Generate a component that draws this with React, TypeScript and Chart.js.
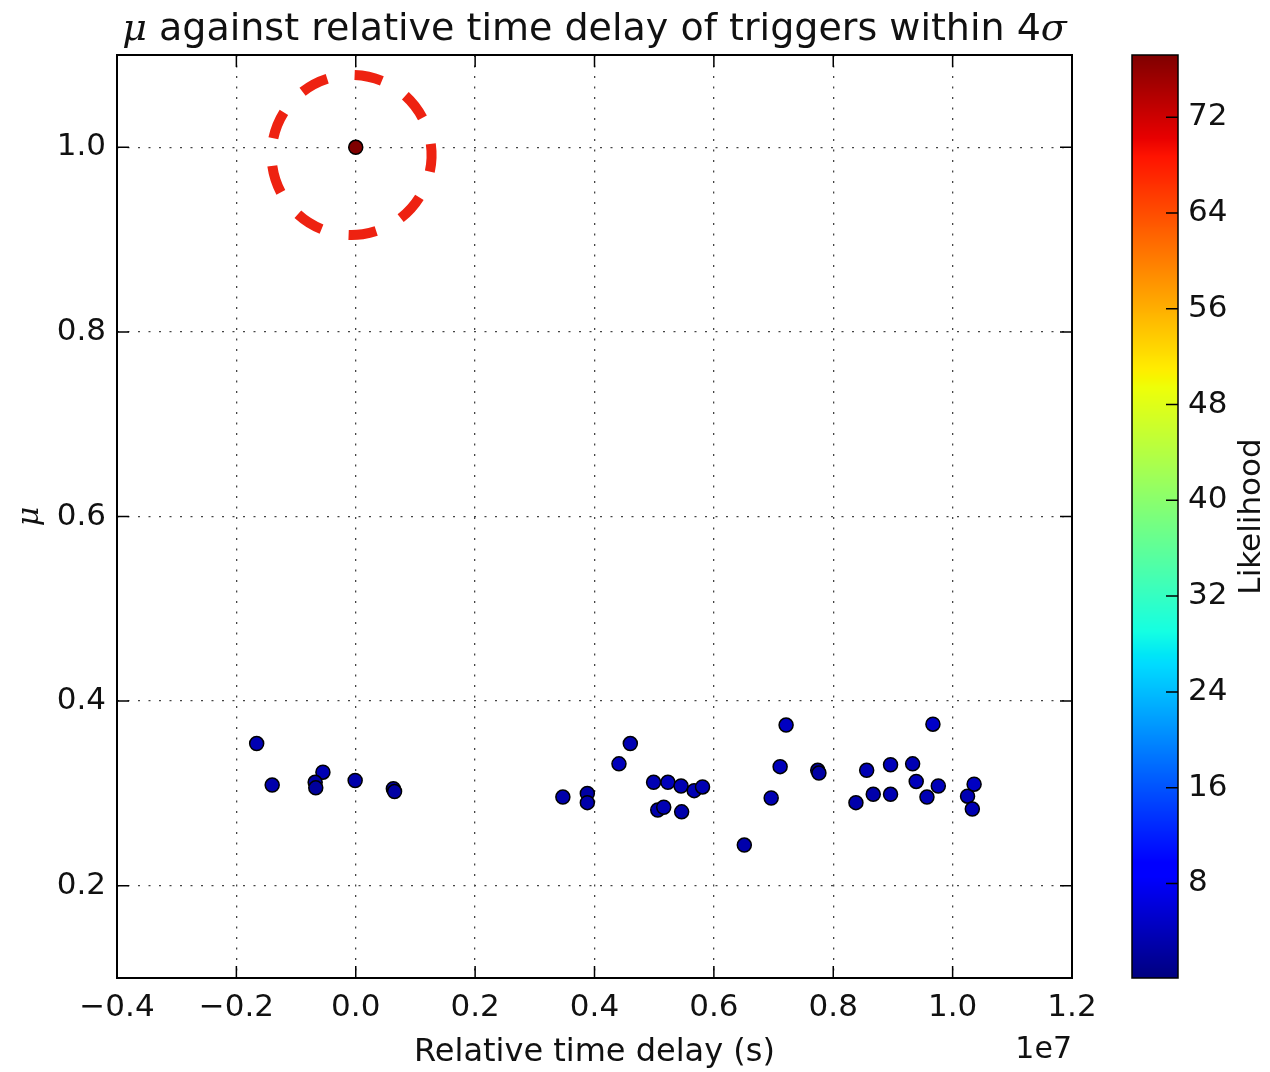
import React, { useEffect, useRef } from 'react';
import { Chart, registerables } from 'chart.js';

Chart.register(...registerables);

// ---------- data ----------
const DELAY_S = [
  -1.66e6, -1.40e6, -0.55e6, -0.68e6, -0.67e6, -0.01e6, 0.63e6, 0.65e6,
  3.47e6, 3.88e6, 3.88e6, 4.41e6, 4.60e6, 4.99e6, 5.23e6, 5.45e6,
  5.06e6, 5.16e6, 5.46e6, 5.67e6, 5.81e6, 6.51e6, 6.96e6, 7.11e6,
  7.21e6, 7.74e6, 7.76e6, 8.38e6, 8.56e6, 8.67e6, 8.96e6, 8.96e6,
  9.33e6, 9.39e6, 9.67e6, 9.57e6, 9.76e6, 10.25e6, 10.36e6, 10.33e6,
  0.0,
];
const MU = [
  0.354, 0.309, 0.323, 0.312, 0.306, 0.314, 0.305, 0.302,
  0.296, 0.300, 0.290, 0.332, 0.354, 0.312, 0.312, 0.308,
  0.282, 0.285, 0.280, 0.303, 0.307, 0.244, 0.295, 0.329,
  0.374, 0.325, 0.322, 0.290, 0.325, 0.299, 0.331, 0.299,
  0.332, 0.313, 0.375, 0.296, 0.308, 0.297, 0.310, 0.283,
  1.000,
];
const LIKELIHOOD = [
  3.5, 3.0, 3.5, 2.5, 2.0, 3.0, 2.0, 2.5,
  3.0, 2.5, 3.0, 4.0, 3.5, 3.5, 4.0, 3.5,
  3.0, 3.5, 3.0, 3.5, 3.5, 3.0, 3.5, 4.0,
  4.5, 2.5, 2.5, 3.0, 3.5, 3.0, 4.0, 3.5,
  3.5, 4.0, 5.0, 3.5, 4.0, 3.5, 4.5, 3.5,
  77.2,
];

const X_TICKS = [-4e6, -2e6, 0, 2e6, 4e6, 6e6, 8e6, 10e6, 12e6];
const Y_TICKS = [0.2, 0.4, 0.6, 0.8, 1.0];
const CB_TICKS = [8, 16, 24, 32, 40, 48, 56, 64, 72];
const X_RANGE = [-4e6, 12e6];
const Y_RANGE = [0.1, 1.1];
const CB_RANGE = [0.1, 77.2];
const X_OFFSET = 1e7;
const X_OFFSET_LABEL = '1e7';
const HIGHLIGHT_CENTER = [-0.07e6, 0.9917];

const TITLE_PARTS = [
  { text: 'μ', math: true },
  { text: ' against relative time delay of triggers within 4', math: false },
  { text: 'σ', math: true },
];
const X_LABEL = 'Relative time delay (s)';
const Y_LABEL = 'μ';
const CB_LABEL = 'Likelihood';

// ---------- jet colormap ----------
const JET: Record<string, number[][]> = {
  r: [[0, 0], [0.35, 0], [0.66, 1], [0.89, 1], [1, 0.5]],
  g: [[0, 0], [0.125, 0], [0.375, 1], [0.64, 1], [0.91, 0], [1, 0]],
  b: [[0, 0.5], [0.11, 1], [0.34, 1], [0.65, 0], [1, 0]],
};
function interp(pts: number[][], t: number) {
  for (let i = 1; i < pts.length; i++) {
    if (t <= pts[i][0]) {
      const [x0, y0] = pts[i - 1];
      const [x1, y1] = pts[i];
      return y0 + ((t - x0) / (x1 - x0)) * (y1 - y0);
    }
  }
  return pts[pts.length - 1][1];
}
function jet(t: number) {
  const c = Math.max(0, Math.min(1, t));
  const r = Math.round(interp(JET.r, c) * 255);
  const g = Math.round(interp(JET.g, c) * 255);
  const b = Math.round(interp(JET.b, c) * 255);
  return `rgb(${r},${g},${b})`;
}
function colorFor(v: number) {
  return jet((v - CB_RANGE[0]) / (CB_RANGE[1] - CB_RANGE[0]));
}

const FONT = 'DejaVu Sans';
const TEXT = '#111';

function zeroPadding(s: any) {
  s.paddingTop = 0;
  s.paddingBottom = 0;
  s.paddingLeft = 0;
  s.paddingRight = 0;
}

const decor = {
  id: 'decor',
  afterDatasetsDraw(chart: any) {
    const { ctx, scales } = chart;
    const cx = scales.x.getPixelForValue(HIGHLIGHT_CENTER[0]);
    const cy = scales.y.getPixelForValue(HIGHLIGHT_CENTER[1]);
    ctx.save();
    ctx.strokeStyle = '#ee2211';
    ctx.lineWidth = 10;
    ctx.setLineDash([28, 27.8]);
    const start = (-8 * Math.PI) / 180;
    ctx.beginPath();
    ctx.arc(cx, cy, 80, start, start + Math.PI * 2);
    ctx.stroke();
    ctx.restore();
  },
  afterDraw(chart: any) {
    const { ctx, chartArea: a, scales } = chart;
    const xs = scales.x, ys = scales.y, cb = scales.cb;
    ctx.save();
    // frame
    ctx.strokeStyle = '#000';
    ctx.lineWidth = 2;
    ctx.strokeRect(a.left, a.top, a.right - a.left, a.bottom - a.top);
    // inward ticks on all four sides
    ctx.lineWidth = 1.5;
    ctx.beginPath();
    X_TICKS.forEach((v) => {
      const p = xs.getPixelForValue(v);
      ctx.moveTo(p, a.bottom); ctx.lineTo(p, a.bottom - 12);
      ctx.moveTo(p, a.top); ctx.lineTo(p, a.top + 12);
    });
    Y_TICKS.forEach((v) => {
      const p = ys.getPixelForValue(v);
      ctx.moveTo(a.left, p); ctx.lineTo(a.left + 12, p);
      ctx.moveTo(a.right, p); ctx.lineTo(a.right - 12, p);
    });
    ctx.stroke();

    // colorbar
    const cbL = a.right + 60;
    const cbW = 46;
    const top = Math.round(cb.top);
    const bot = Math.round(cb.bottom);
    for (let py = top; py < bot; py++) {
      ctx.fillStyle = colorFor(cb.getValueForPixel(py + 0.5));
      ctx.fillRect(cbL, py, cbW, 1);
    }
    ctx.strokeStyle = '#000';
    ctx.lineWidth = 1.5;
    ctx.strokeRect(cbL, cb.top, cbW, cb.bottom - cb.top);
    ctx.beginPath();
    CB_TICKS.forEach((v) => {
      const p = cb.getPixelForValue(v);
      ctx.moveTo(cbL + cbW, p); ctx.lineTo(cbL + cbW - 12, p);
    });
    ctx.stroke();

    // colorbar label
    ctx.fillStyle = TEXT;
    ctx.font = `31px "${FONT}"`;
    ctx.textAlign = 'center';
    ctx.textBaseline = 'middle';
    ctx.save();
    ctx.translate(1252, (cb.top + cb.bottom) / 2);
    ctx.rotate(-Math.PI / 2);
    ctx.fillText(CB_LABEL, 0, 0);
    ctx.restore();

    // offset text
    ctx.font = `30px "${FONT}"`;
    ctx.textAlign = 'right';
    ctx.textBaseline = 'alphabetic';
    ctx.fillText(X_OFFSET_LABEL, a.right, 1058);

    // title with math-italic symbols
    const sansFont = `38px "${FONT}"`;
    const mathFont = `italic 38px "DejaVu Serif"`;
    let total = 0;
    const widths = TITLE_PARTS.map((p) => {
      ctx.font = p.math ? mathFont : sansFont;
      const w = ctx.measureText(p.text).width;
      total += w;
      return w;
    });
    let x = (a.left + a.right) / 2 - total / 2;
    ctx.textAlign = 'left';
    TITLE_PARTS.forEach((p, i) => {
      ctx.font = p.math ? mathFont : sansFont;
      ctx.fillText(p.text, x, 40);
      x += widths[i];
    });
    ctx.restore();
  },
};

export default function App() {
  const ref = useRef<HTMLCanvasElement | null>(null);
  useEffect(() => {
    if (!ref.current) return;
    const points = DELAY_S.map((d, i) => ({ x: d, y: MU[i] }));
    const colors = LIKELIHOOD.map((v) => colorFor(v));
    const chart = new Chart(ref.current, {
      type: 'scatter',
      data: {
        datasets: [
          {
            data: points,
            backgroundColor: colors,
            borderColor: '#000',
            borderWidth: 1.5,
            pointRadius: 7,
            pointHoverRadius: 7,
          },
        ],
      },
      options: {
        animation: false,
        responsive: false,
        devicePixelRatio: 1,
        events: [],
        layout: { padding: { top: 55, left: 0, right: 0, bottom: 0 } },
        plugins: { legend: { display: false }, title: { display: false }, tooltip: { enabled: false } },
        scales: {
          x: {
            type: 'linear',
            position: 'bottom',
            min: X_RANGE[0],
            max: X_RANGE[1],
            afterBuildTicks: (s: any) => { s.ticks = X_TICKS.map((v) => ({ value: v })); },
            afterFit: (s: any) => { s.height = 94; zeroPadding(s); },
            grid: { color: '#444', lineWidth: 1.3, drawTicks: false },
            border: { display: false, dash: [2, 8.5] },
            ticks: {
              autoSkip: false,
              maxRotation: 0,
              padding: 11,
              color: TEXT,
              font: { family: FONT, size: 31 },
              callback: (v: any) => (Number(v) / X_OFFSET).toFixed(1).replace('-', '\u2212'),
            },
            title: {
              display: true,
              text: X_LABEL,
              color: TEXT,
              font: { family: FONT, size: 32 },
              padding: { top: 0, bottom: 0 },
            },
          },
          y: {
            type: 'linear',
            position: 'left',
            min: Y_RANGE[0],
            max: Y_RANGE[1],
            afterBuildTicks: (s: any) => { s.ticks = Y_TICKS.map((v) => ({ value: v })); },
            afterFit: (s: any) => { s.width = 117; zeroPadding(s); },
            grid: { color: '#444', lineWidth: 1.3, drawTicks: false },
            border: { display: false, dash: [2, 8.5] },
            ticks: {
              padding: 11,
              color: TEXT,
              font: { family: FONT, size: 31 },
              callback: (v: any) => Number(v).toFixed(1),
            },
            title: {
              display: true,
              text: Y_LABEL,
              color: TEXT,
              font: { family: 'DejaVu Serif', style: 'italic', size: 30 },
              padding: { top: 12, bottom: 0 },
            },
          },
          cb: {
            type: 'linear',
            position: 'right',
            axis: 'y',
            min: CB_RANGE[0],
            max: CB_RANGE[1],
            afterBuildTicks: (s: any) => { s.ticks = CB_TICKS.map((v) => ({ value: v })); },
            afterFit: (s: any) => { s.width = 198; zeroPadding(s); },
            grid: { display: false, drawTicks: false },
            border: { display: false },
            ticks: {
              padding: 116,
              color: TEXT,
              font: { family: FONT, size: 31 },
              callback: (v: any) => String(v),
            },
          },
        },
      },
      plugins: [decor],
    });
    return () => chart.destroy();
  }, []);
  return (
    <div style={{ position: 'fixed', left: 0, top: 0, width: 1270, height: 1072, background: '#fff' }}>
      <canvas ref={ref} width={1270} height={1072} />
    </div>
  );
}
